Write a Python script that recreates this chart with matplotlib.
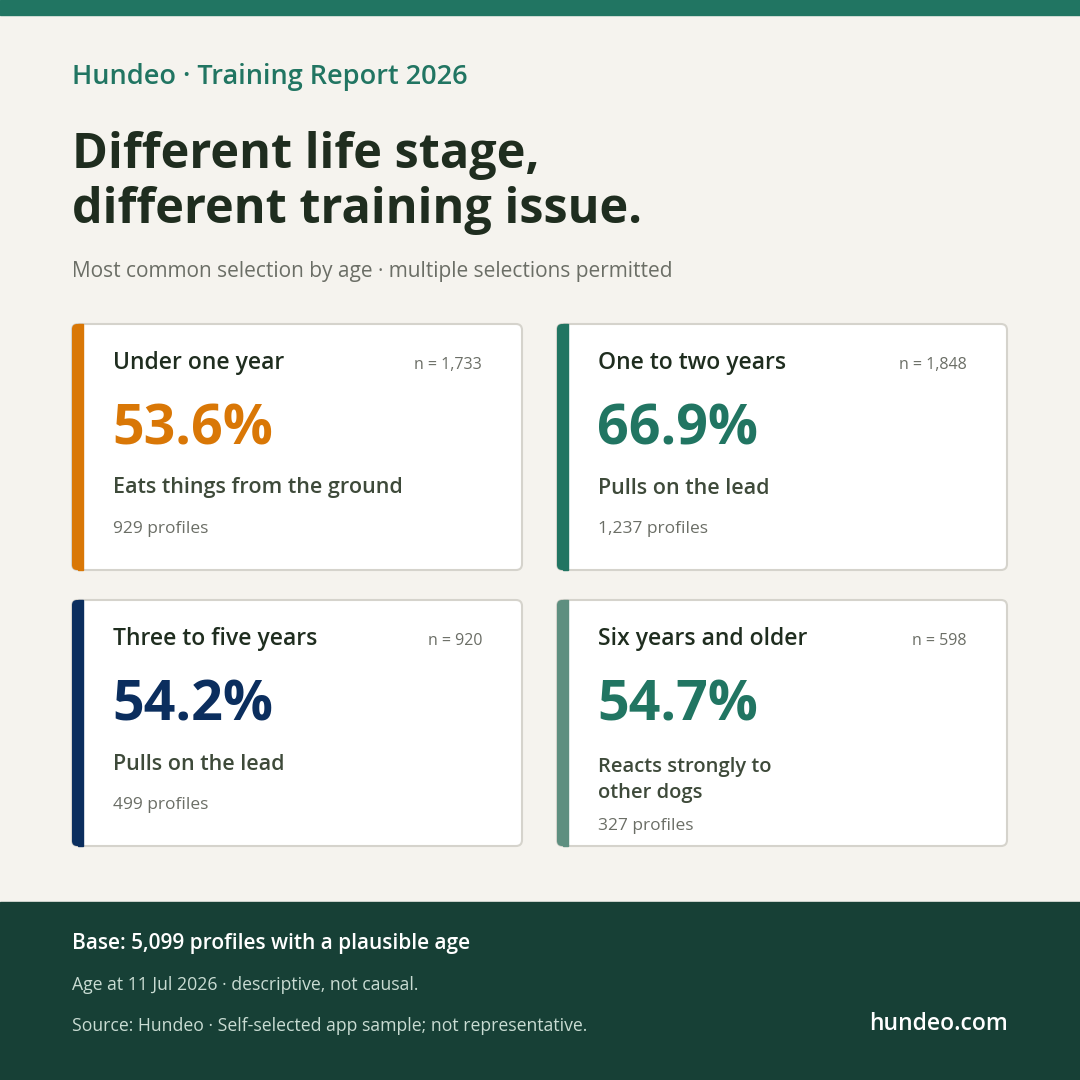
import matplotlib
matplotlib.use("Agg")
import matplotlib.pyplot as plt
from matplotlib.patches import FancyBboxPatch, Rectangle

plt.rcParams['font.family'] = ['Open Sans', 'DejaVu Sans']

groups = ["Under one year", "One to two years", "Three to five years", "Six years and older"]
n_values = [1733, 1848, 920, 598]
shares = [53.6, 66.9, 54.2, 54.7]
issues = ["Eats things from the ground", "Pulls on the lead", "Pulls on the lead", "Reacts strongly to\nother dogs"]
profiles = [929, 1237, 499, 327]
colors = ["#D97706", "#217562", "#0B2E5E", "#5E8F80"]
value_colors = ["#D97706", "#217562", "#0B2E5E", "#217562"]

BG = "#F5F3EE"; DARK = "#1F2D1F"; GREEN = "#217562"; FOOT = "#174036"

fig = plt.figure(figsize=(10.8, 10.8), dpi=100)
fig.patch.set_facecolor(BG)
ax = fig.add_axes([0, 0, 1, 1])
ax.set_xlim(0, 1080); ax.set_ylim(1080, 0); ax.axis("off")

ax.add_patch(Rectangle((0, 0), 1080, 15, color=GREEN))
ax.text(72, 77, "Hundeo · Training Report 2026", fontsize=19.5, color=GREEN, va="center", fontweight="semibold")
ax.text(72, 183, "Different life stage,\ndifferent training issue.", fontsize=35, color=DARK,
        va="center", fontweight="bold", linespacing=1.15)
ax.text(72, 271, "Most common selection by age · multiple selections permitted", fontsize=15,
        color="#6B6E66", va="center")

pos = [(72, 324), (557, 324), (72, 600), (557, 600)]
W, H = 450, 246
for i, (x, y) in enumerate(pos):
    ax.add_patch(FancyBboxPatch((x, y), W, H, boxstyle="round,pad=0,rounding_size=6",
                                fc="white", ec="#D5D3CC", lw=1.5))
    ax.add_patch(FancyBboxPatch((x, y), 11, H, boxstyle="round,pad=0,rounding_size=5",
                                fc=colors[i], ec="none"))
    ax.add_patch(Rectangle((x + 6, y), 5, H, color=colors[i]))
    ax.text(x + 41, y + 39, groups[i], fontsize=16.5, color=DARK, va="center", fontweight="semibold")
    ax.text(x + 410, y + 41, f"n = {n_values[i]:,}", fontsize=11.5, color="#6B6E66", va="center", ha="right")
    ax.text(x + 40, y + 106, f"{shares[i]:.1f}%", fontsize=40, color=value_colors[i], va="center", fontweight="bold")
    if "\n" in issues[i]:
        ax.text(x + 41, y + 180, issues[i], fontsize=14.5, color="#3E4A3A", va="center",
                fontweight="semibold", linespacing=1.45)
        ax.text(x + 41, y + 226, f"{profiles[i]:,} profiles", fontsize=12.5, color="#6B6E66", va="center")
    else:
        ax.text(x + 41, y + 164, issues[i], fontsize=15.5, color="#3E4A3A", va="center", fontweight="semibold")
        ax.text(x + 41, y + 205, f"{profiles[i]:,} profiles", fontsize=12.5, color="#6B6E66", va="center")

ax.add_patch(Rectangle((0, 902), 1080, 178, color=FOOT))
ax.text(72, 943, "Base: 5,099 profiles with a plausible age", fontsize=15, color="white",
        va="center", fontweight="semibold")
ax.text(72, 985, "Age at 11 Jul 2026 · descriptive, not causal.", fontsize=12.7, color="#C9DCD3", va="center")
ax.text(72, 1026, "Source: Hundeo · Self-selected app sample; not representative.", fontsize=12.7,
        color="#C9DCD3", va="center")
ax.text(1008, 1024, "hundeo.com", fontsize=16.5, color="white", va="center", ha="right", fontweight="semibold")

fig.savefig("out.png", dpi=100, facecolor=BG)
